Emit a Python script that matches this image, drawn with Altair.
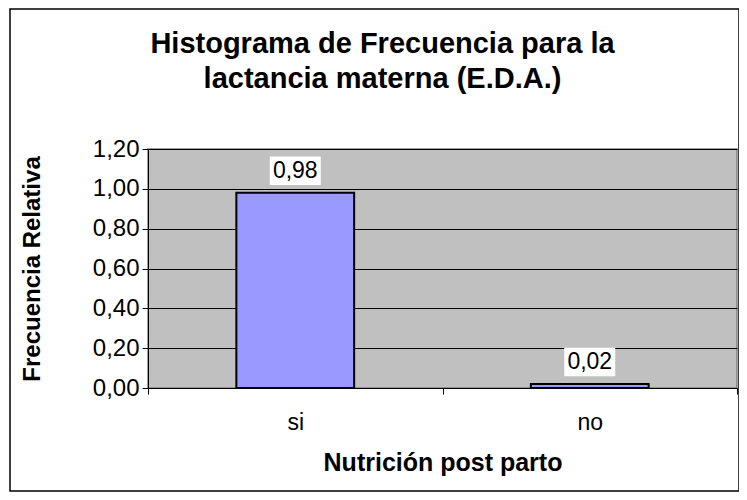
import altair as alt
import pandas as pd

categories = ["si", "no"]
values = [0.98, 0.02]
labels = ["0,98", "0,02"]
y_ticks = [0, 0.2, 0.4, 0.6, 0.8, 1.0, 1.2]
title_lines = ["Histograma de Frecuencia para la", "lactancia materna (E.D.A.)"]
x_title = "Nutrición post parto"
y_title = "Frecuencia Relativa"

df = pd.DataFrame({"cat": categories, "val": values, "lab": labels})

FONT = "Liberation Sans"
W, H = 589, 239

x_enc = alt.X(
    "cat:N",
    sort=categories,
    title=x_title,
    scale=alt.Scale(paddingInner=0, paddingOuter=0),
    axis=alt.Axis(
        labelAngle=0,
        tickBand="extent",
        ticks=True,
        tickSize=6,
        tickColor="black",
        domainColor="black",
        labelFont=FONT,
        labelFontSize=23,
        labelColor="black",
        labelPadding=17,
        titleFont=FONT,
        titleFontSize=25,
        titleFontWeight="bold",
        titleColor="black",
        titlePadding=16,
        grid=False,
    ),
)
y_enc = alt.Y(
    "val:Q",
    title=y_title,
    scale=alt.Scale(domain=[0, 1.2], nice=False),
    axis=alt.Axis(
        values=y_ticks,
        labelExpr="replace(format(datum.value, '.2f'), '.', ',')",
        labelOverlap=False,
        labelFlush=False,
        grid=True,
        gridColor="black",
        gridWidth=1,
        gridOpacity=1,
        tickSize=6,
        tickColor="black",
        domainColor="black",
        labelFont=FONT,
        labelFontSize=24,
        labelColor="black",
        labelPadding=3,
        titleFont=FONT,
        titleFontSize=24,
        titleFontWeight="bold",
        titleColor="black",
        titlePadding=48,
    ),
)

# outer chart frame (decorative border around the whole figure)
frame = alt.Chart(df.head(1)).mark_point(
    shape="M-1,-0.6612L1,-0.6612L1,0.6612L-1,0.6612Z",
    size=729 * 729,
    filled=False,
    stroke="black",
    strokeWidth=1.5,
    opacity=1,
    clip=False,
).encode(x=alt.value(226.5), y=alt.value(101))

bars = alt.Chart(df).mark_bar(
    width=alt.RelativeBandSize(0.4), color="#9999FF", stroke="black", strokeWidth=2
).encode(x=x_enc, y=y_enc)

boxes = alt.Chart(df).mark_point(
    shape="M-1,-0.56L1,-0.56L1,0.56L-1,0.56Z",
    size=2600,
    filled=True,
    color="white",
    opacity=1,
    strokeWidth=0,
    yOffset=-22,
).encode(x=x_enc, y=y_enc)

texts = alt.Chart(df).mark_text(
    font=FONT, fontSize=23, color="black", baseline="middle", dy=-22
).encode(x=x_enc, y=y_enc, text="lab:N")

chart = alt.layer(frame, bars, boxes, texts).properties(
    width=W,
    height=H,
    title=alt.TitleParams(
        text=title_lines,
        font=FONT,
        fontSize=29,
        fontWeight="bold",
        color="black",
        anchor="middle",
        frame="group",
        dx=-60,
        offset=-88,
        lineHeight=35,
    ),
    autosize=alt.AutoSizeParams(type="none"),
    padding={"left": 140, "top": 141, "right": 2, "bottom": 104},
).configure(background="white").configure_view(
    fill="#C0C0C0", stroke="#808080", strokeWidth=1.5
)

chart.save("out.html", embed_options={"renderer": "svg", "actions": False})
